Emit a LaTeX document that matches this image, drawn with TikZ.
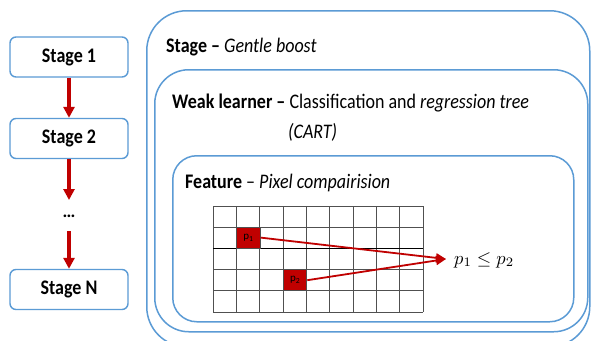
\documentclass[tikz,border=0pt]{standalone}
\usepackage{fontspec}
\setmainfont{Carlito}
\usetikzlibrary{arrows.meta}
\definecolor{boxblue}{RGB}{91,155,213}
\definecolor{darkred}{RGB}{192,0,0}
\definecolor{gridgray}{RGB}{80,80,80}
\newcommand\talltxt[1]{\scalebox{1}[1.15]{#1}}
\tikzset{
  stagebox/.style={draw=boxblue, line width=1.4pt, fill=white, rounded corners=6pt,
    minimum width=118pt, minimum height=40pt, font=\fontsize{18}{20}\selectfont\bfseries, inner sep=0pt},
  container/.style={draw=boxblue, line width=1.5pt, anchor=north west, inner sep=0pt},
  flowarrow/.style={draw=darkred, line width=3.2pt, -{Triangle[length=11pt,width=11pt]}},
  heading/.style={anchor=west, inner sep=0pt, font=\fontsize{18}{20}\selectfont},
  gridline/.style={draw=gridgray, line width=1pt},
  pixcell/.style={fill=darkred, draw=gridgray, line width=0.8pt, minimum width=23.3pt, minimum height=21.2pt, inner sep=0pt, font=\fontsize{11}{12}\selectfont},
  cmparrow/.style={draw=darkred, line width=1.8pt, -{Triangle[length=10pt,width=9pt]}},
}
\begin{document}
\begin{tikzpicture}[x=1pt,y=-1pt]
\useasboundingbox (0,0) rectangle (591,340);
\clip (0,0) rectangle (591,340);
\fill[white] (0,0) rectangle (591,340);
% containers
\node[container, rounded corners=40pt, minimum width=443pt, minimum height=336pt] (stagecont) at (146,10) {};
\node[container, rounded corners=34pt, minimum width=433pt, minimum height=262pt] (weakcont) at (154,69) {};
\node[container, rounded corners=24pt, minimum width=401pt, minimum height=166pt] (featcont) at (172,155) {};
% headings
\node[heading] (stagetxt) at (166,47) {\talltxt{\textbf{Stage} \textbf{–} \textit{Gentle boost}}};
\node[heading] (weaktxt) at (172,103) {\talltxt{\textbf{Weak learner –} Classification and \textit{regression tree}}};
\node[heading] (carttxt) at (288,132) {\talltxt{\textit{(CART)}}};
\node[heading] (feattxt) at (185,183) {\talltxt{\textbf{Feature} – \textit{Pixel compairision}}};
% grid
\foreach \i in {0,...,9} {
  \draw[gridline] ({213+\i*23.333},206) -- ({213+\i*23.333},312);
}
\foreach \j in {0,...,5} {
  \draw[gridline] (213,{206+\j*21.2}) -- (423,{206+\j*21.2});
}
\draw[black, line width=1.2pt] (213,248.4) -- (423,248.4);
\node[pixcell] (p1) at (248.5,237.6) {p\textsubscript{1}};
\node[pixcell] (p2) at (295.2,280.2) {p\textsubscript{2}};
\coordinate (tip) at (446,259);
\draw[cmparrow] (p1.east) -- (tip);
\draw[cmparrow] (p2.east) -- (tip);
\node[anchor=west, inner sep=0pt] (ineq) at (454,260) {\scalebox{1.85}{$p_1 \le p_2$}};
% left stages
\node[stagebox] (s1) at (69,57) {\talltxt{Stage 1}};
\node[stagebox] (s2) at (69,138.5) {\talltxt{Stage 2}};
\node[inner sep=0pt, font=\fontsize{18}{20}\selectfont\bfseries] (dots) at (69,216) {…};
\node[stagebox] (sn) at (69,289.5) {\talltxt{Stage N}};
\coordinate (d1) at (69,200);
\coordinate (d2) at (69,231);
\draw[flowarrow] (s1.south) -- (s2.north);
\draw[flowarrow] (s2.south) -- (d1);
\draw[flowarrow] (d2) -- (sn.north);
\end{tikzpicture}
\end{document}
